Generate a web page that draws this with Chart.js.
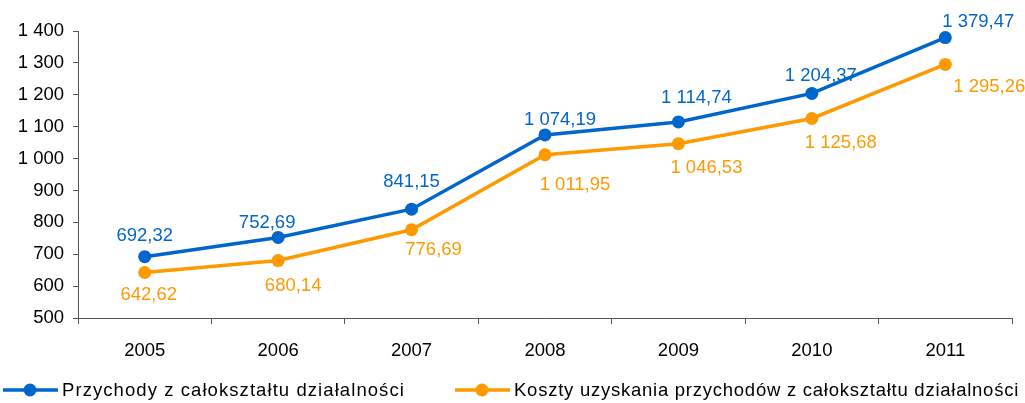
<!DOCTYPE html>
<html>
<head>
<meta charset="utf-8">
<script src="https://cdn.jsdelivr.net/npm/chart.js@4"></script>
<style>
    html, body { margin: 0; padding: 0; background: #fff; }
    #wrap { width: 1025px; height: 403px; }
</style>
</head>
<body>
<div id="wrap"><canvas id="chart"></canvas></div>
<script>
// Data
const years = ['2005', '2006', '2007', '2008', '2009', '2010', '2011'];
const revenue = [692.32, 752.69, 841.15, 1074.19, 1114.74, 1204.37, 1379.47];
const costs = [642.62, 680.14, 776.69, 1011.95, 1046.53, 1125.68, 1295.26];
const seriesNames = ['Przychody z całokształtu działalności', 'Koszty uzyskania przychodów z całokształtu działalności'];

const blue = '#0066CC';
const orange = '#FF9900';
const fontFamily = '"Liberation Sans", Arial, sans-serif';

// Polish number format: "1 379,47"
function fmt(v, decimals) {
    const parts = v.toFixed(decimals).split('.');
    const intPart = parts[0].replace(/\B(?=(\d{3})+(?!\d))/g, ' ');
    return parts.length > 1 ? intPart + ',' + parts[1] : intPart;
}

// Label offsets relative to each point (dx, dy)
const labelOffsets = [
    [[0, -21], [-11, -15], [0, -27], [15, -15], [18, -24], [9, -17], [33, -16]],
    [[4, 22], [15, 25], [22, 20], [30, 30], [28, 24], [29, 24], [44, 23]]
];

const labelPlugin = {
    id: 'pointLabels',
    afterDatasetsDraw(chart) {
        const ctx = chart.ctx;
        ctx.save();
        ctx.font = '18.5px ' + fontFamily;
        ctx.textAlign = 'center';
        ctx.textBaseline = 'middle';
        chart.data.datasets.forEach((ds, i) => {
            const meta = chart.getDatasetMeta(i);
            ctx.fillStyle = ds.borderColor;
            meta.data.forEach((pt, j) => {
                const off = labelOffsets[i][j];
                ctx.fillText(fmt(ds.data[j], 2), pt.x + off[0], pt.y + off[1]);
            });
        });
        ctx.restore();
    }
};

const legendPlugin = {
    id: 'bottomLegend',
    afterDraw(chart) {
        const ctx = chart.ctx;
        const items = [
            { x: 3, color: blue, text: seriesNames[0], width: 343 },
            { x: 455, color: orange, text: seriesNames[1], width: 505 }
        ];
        const y = 390;
        ctx.save();
        ctx.font = '18.5px ' + fontFamily;
        ctx.textBaseline = 'middle';
        items.forEach(it => {
            ctx.strokeStyle = it.color;
            ctx.lineWidth = 3.5;
            ctx.beginPath();
            ctx.moveTo(it.x, y);
            ctx.lineTo(it.x + 55, y);
            ctx.stroke();
            ctx.fillStyle = it.color;
            ctx.beginPath();
            ctx.arc(it.x + 27, y, 6.5, 0, Math.PI * 2);
            ctx.fill();
            // stretch the text to the width it has in the original
            ctx.letterSpacing = '0px';
            const w = ctx.measureText(it.text).width;
            ctx.letterSpacing = ((it.width - w) / it.text.length).toFixed(2) + 'px';
            ctx.fillStyle = '#000';
            ctx.fillText(it.text, it.x + 59, y + 1);
        });
        ctx.restore();
    }
};

document.addEventListener('DOMContentLoaded', function () {
    const ctx = document.getElementById('chart').getContext('2d');
    new Chart(ctx, {
        type: 'line',
        data: {
            labels: years,
            datasets: [{
                label: seriesNames[0],
                data: revenue,
                borderColor: blue,
                backgroundColor: blue,
                borderWidth: 3.5,
                pointRadius: 6.5,
                pointHoverRadius: 6.5,
                pointBorderWidth: 0,
                tension: 0
            }, {
                label: seriesNames[1],
                data: costs,
                borderColor: orange,
                backgroundColor: orange,
                borderWidth: 3.5,
                pointRadius: 6.5,
                pointHoverRadius: 6.5,
                pointBorderWidth: 0,
                tension: 0
            }]
        },
        options: {
            responsive: true,
            maintainAspectRatio: false,
            animation: false,
            layout: {
                padding: { top: 31, right: 13, bottom: 40, left: 0 }
            },
            plugins: {
                legend: { display: false },
                tooltip: { enabled: false }
            },
            scales: {
                x: {
                    offset: true,
                    grid: {
                        display: true,
                        offset: true,
                        drawOnChartArea: false,
                        tickLength: 6,
                        color: '#555'
                    },
                    border: { color: '#555', width: 1 },
                    ticks: {
                        color: '#000',
                        padding: 16,
                        font: { family: fontFamily, size: 18.5 }
                    },
                    afterFit(scale) { scale.height = 45; }
                },
                y: {
                    min: 500,
                    max: 1400,
                    grid: {
                        display: true,
                        drawOnChartArea: false,
                        tickLength: 5,
                        color: '#555'
                    },
                    border: { color: '#555', width: 1 },
                    ticks: {
                        stepSize: 100,
                        color: '#000',
                        padding: 9,
                        font: { family: fontFamily, size: 18.5 },
                        callback: function (value) { return fmt(value, 0); }
                    },
                    afterFit(scale) { scale.width = 78; }
                }
            }
        },
        plugins: [labelPlugin, legendPlugin]
    });
});
</script>
</body>
</html>
